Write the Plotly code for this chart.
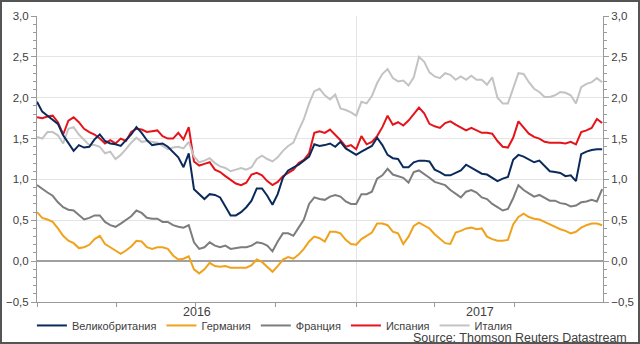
import pandas as pd
import plotly.graph_objects as go

# ---- data (10y government bond yields, %) ----
dates = pd.date_range("2016-01-01", periods=109, freq="6D")

uk = [1.95, 1.83, 1.78, 1.73, 1.68, 1.54, 1.45, 1.35, 1.42, 1.39,
      1.40, 1.49, 1.55, 1.47, 1.44, 1.43, 1.41, 1.48, 1.55, 1.64,
      1.57, 1.48, 1.42, 1.43, 1.44, 1.40, 1.33, 1.27, 1.15, 1.32,
      0.88, 0.82, 0.76, 0.82, 0.81, 0.78, 0.67, 0.56, 0.56, 0.60,
      0.66, 0.74, 0.89, 0.89, 0.80, 0.69, 0.82, 1.02, 1.11, 1.14,
      1.18, 1.23, 1.28, 1.43, 1.41, 1.42, 1.44, 1.40, 1.46, 1.38,
      1.34, 1.30, 1.34, 1.37, 1.41, 1.51, 1.42, 1.30, 1.26, 1.25,
      1.15, 1.15, 1.21, 1.23, 1.23, 1.22, 1.12, 1.09, 1.05, 1.05,
      1.08, 1.11, 1.18, 1.14, 1.11, 1.07, 1.06, 1.02, 0.98, 1.01,
      1.03, 1.24, 1.30, 1.28, 1.25, 1.21, 1.23, 1.17, 1.10, 1.09,
      1.08, 1.04, 1.05, 0.98, 1.31, 1.34, 1.36, 1.37, 1.37]

germany = [0.60, 0.53, 0.51, 0.48, 0.40, 0.31, 0.25, 0.22, 0.16, 0.17,
           0.20, 0.27, 0.31, 0.21, 0.17, 0.13, 0.09, 0.13, 0.18, 0.25,
           0.24, 0.17, 0.15, 0.17, 0.17, 0.15, 0.07, 0.02, 0.03, 0.06,
           -0.10, -0.15, -0.10, -0.02, -0.06, -0.07, -0.06, -0.08, -0.08, -0.08,
           -0.08, -0.05, 0.02, -0.01, -0.07, -0.13, -0.06, 0.02, 0.05, 0.03,
           0.08, 0.15, 0.24, 0.30, 0.28, 0.24, 0.36, 0.36, 0.34, 0.26,
           0.21, 0.20, 0.27, 0.31, 0.35, 0.46, 0.46, 0.44, 0.36, 0.34,
           0.21, 0.30, 0.43, 0.47, 0.44, 0.40, 0.33, 0.27, 0.22, 0.21,
           0.35, 0.37, 0.40, 0.41, 0.39, 0.40, 0.30, 0.27, 0.25, 0.25,
           0.26, 0.45, 0.54, 0.58, 0.54, 0.52, 0.51, 0.48, 0.45, 0.41,
           0.39, 0.37, 0.34, 0.36, 0.41, 0.44, 0.46, 0.46, 0.44]

france = [0.93, 0.88, 0.84, 0.80, 0.72, 0.66, 0.63, 0.62, 0.57, 0.51,
          0.53, 0.56, 0.56, 0.48, 0.44, 0.42, 0.46, 0.51, 0.55, 0.62,
          0.59, 0.53, 0.52, 0.52, 0.48, 0.48, 0.44, 0.42, 0.41, 0.44,
          0.23, 0.15, 0.17, 0.23, 0.19, 0.17, 0.19, 0.15, 0.16, 0.17,
          0.17, 0.19, 0.23, 0.22, 0.19, 0.12, 0.24, 0.34, 0.34, 0.31,
          0.41, 0.51, 0.70, 0.78, 0.76, 0.75, 0.79, 0.81, 0.79, 0.73,
          0.70, 0.70, 0.82, 0.82, 0.85, 1.01, 1.05, 1.13, 1.06, 1.04,
          1.02, 0.96, 1.09, 1.11, 1.07, 1.02, 0.97, 0.95, 0.93, 0.87,
          0.83, 0.78, 0.85, 0.87, 0.84, 0.78, 0.76, 0.70, 0.66, 0.62,
          0.64, 0.77, 0.93, 0.87, 0.83, 0.79, 0.81, 0.77, 0.74, 0.74,
          0.71, 0.70, 0.67, 0.68, 0.72, 0.73, 0.75, 0.73, 0.88]

spain = [1.76, 1.75, 1.77, 1.78, 1.70, 1.55, 1.72, 1.76, 1.70, 1.62,
         1.58, 1.55, 1.50, 1.44, 1.48, 1.44, 1.50, 1.47, 1.58, 1.62,
         1.61, 1.58, 1.59, 1.60, 1.53, 1.50, 1.50, 1.57, 1.49, 1.64,
         1.22, 1.17, 1.19, 1.21, 1.12, 1.09, 1.04, 1.00, 0.95, 0.93,
         0.96, 1.06, 1.08, 1.05, 0.98, 0.93, 0.97, 1.04, 1.08, 1.12,
         1.20, 1.24, 1.32, 1.57, 1.59, 1.57, 1.61, 1.55, 1.48, 1.40,
         1.42, 1.37, 1.53, 1.43, 1.46, 1.53, 1.64, 1.78, 1.67, 1.70,
         1.66, 1.72, 1.80, 1.88, 1.81, 1.68, 1.65, 1.63, 1.69, 1.71,
         1.67, 1.63, 1.60, 1.63, 1.60, 1.57, 1.57, 1.56, 1.47, 1.40,
         1.39, 1.51, 1.71, 1.64, 1.56, 1.52, 1.50, 1.46, 1.45, 1.45,
         1.45, 1.44, 1.46, 1.43, 1.58, 1.60, 1.63, 1.74, 1.69]

italy = [1.52, 1.50, 1.58, 1.58, 1.54, 1.44, 1.62, 1.64, 1.55, 1.49,
         1.42, 1.42, 1.40, 1.32, 1.34, 1.25, 1.30, 1.37, 1.45, 1.51,
         1.46, 1.47, 1.46, 1.45, 1.41, 1.37, 1.39, 1.40, 1.38, 1.46,
         1.28, 1.21, 1.23, 1.26, 1.20, 1.16, 1.14, 1.10, 1.12, 1.14,
         1.12, 1.15, 1.25, 1.29, 1.25, 1.22, 1.27, 1.35, 1.41, 1.45,
         1.60, 1.74, 1.93, 2.08, 2.11, 2.03, 1.98, 2.04, 1.87, 1.85,
         1.82, 1.78, 1.95, 1.93, 2.02, 2.18, 2.29, 2.35, 2.24, 2.20,
         2.21, 2.15, 2.25, 2.50, 2.44, 2.31, 2.26, 2.24, 2.30, 2.28,
         2.22, 2.26, 2.22, 2.27, 2.22, 2.22, 2.16, 2.25, 2.00, 1.93,
         1.93, 2.12, 2.30, 2.29, 2.19, 2.11, 2.07, 2.01, 2.01, 2.03,
         2.07, 2.06, 2.03, 1.93, 2.13, 2.17, 2.19, 2.24, 2.19]

series_names = ["Великобритания", "Германия", "Франция", "Испания", "Италия"]
series_values = [uk, germany, france, spain, italy]
series_colors = ["#0b2a5c", "#f0a21c", "#7d7d7d", "#e5141b", "#c3c3c3"]
series_axis = ["y2", "y", "y", "y", "y"]

y_ticks = [-0.5, 0.0, 0.5, 1.0, 1.5, 2.0, 2.5, 3.0]
x_range = ["2016-01-01", "2017-10-11"]
year_starts = ["2016-01-01", "2017-01-01"]
quarter_ticks = ["2016-04-01", "2016-07-01", "2016-10-01", "2017-04-01", "2017-07-01"]
year_labels = ["2016", "2017"]
source_text = "Source: Thomson Reuters Datastream"

# ---- figure ----
W, H = 640, 344
ML, MR, MT, MB = 37, 37, 16, 42
PW, PH = W - ML - MR, H - MT - MB
FONT = "Liberation Sans, Arial, sans-serif"

fig = go.Figure()
for name, vals, col, ax in zip(series_names, series_values, series_colors, series_axis):
    fig.add_trace(go.Scatter(x=dates, y=vals, name=name, mode="lines", yaxis=ax,
                             line=dict(color=col, width=2)))

axis_common = dict(
    range=[-0.5, 3.0], tickvals=y_ticks, tickformat=".1f",
    showline=True, linecolor="#9a9a9a", linewidth=1,
    ticks="outside", ticklen=5, tickcolor="#9a9a9a",
    minor=dict(dtick=0.1, ticks="outside", ticklen=3, tickcolor="#9a9a9a", showgrid=False),
    tickfont=dict(size=11.5, color="#404040", family=FONT),
)
fig.update_layout(
    width=W, height=H,
    margin=dict(l=ML, r=MR, t=MT, b=MB, autoexpand=False),
    paper_bgcolor="white", plot_bgcolor="white",
    separators=",.",
    font=dict(family=FONT, color="#404040"),
    showlegend=True,
    legend=dict(orientation="h", x=-0.009, xanchor="left", y=-0.082, yanchor="middle",
                font=dict(size=11, color="#404040", family=FONT),
                itemwidth=30, tracegroupgap=0, bgcolor="rgba(0,0,0,0)"),
    xaxis=dict(type="date", range=x_range, tickvals=year_starts, ticktext=["", ""],
               showgrid=True, gridcolor="#e4e4e4", gridwidth=1,
               showline=True, linecolor="#9a9a9a", linewidth=1,
               ticks="outside", ticklen=4, tickcolor="#9a9a9a",
               minor=dict(tickvals=quarter_ticks, ticks="outside", ticklen=4,
                          tickcolor="#9a9a9a", showgrid=False),
               zeroline=False),
    yaxis=dict(**axis_common, showgrid=True, gridcolor="#e4e4e4", gridwidth=1,
               zeroline=True, zerolinecolor="#a0a0a0", zerolinewidth=1.5),
    yaxis2=dict(**axis_common, overlaying="y", side="right", showgrid=False,
                zeroline=False),
)

# year labels centred on the visible part of each year
x0 = pd.Timestamp(x_range[0]); x1 = pd.Timestamp(x_range[1])
for lab in year_labels:
    ys = max(pd.Timestamp(f"{lab}-01-01"), x0)
    ye = min(pd.Timestamp(f"{int(lab) + 1}-01-01"), x1)
    mid = ys + (ye - ys) / 2
    fig.add_annotation(x=mid, xref="x", y=-0.034, yref="paper", text=lab,
                       showarrow=False, yanchor="middle",
                       font=dict(size=12.5, color="#404040", family=FONT))

fig.add_annotation(x=(628.6 - ML) / PW, xref="paper", y=(PH - (337.7 - MT)) / PH, yref="paper",
                   text=source_text, showarrow=False, xanchor="right", yanchor="middle",
                   font=dict(size=12.5, color="#404040", family=FONT))

# outer frame
fig.add_shape(type="rect", xref="paper", yref="paper",
              x0=(1 - ML) / PW, x1=(W - 1 - ML) / PW,
              y0=(PH - (H - 1 - MT)) / PH, y1=(PH - (1 - MT)) / PH,
              line=dict(color="#555555", width=2), fillcolor="rgba(0,0,0,0)")

fig.write_html("out.html")
